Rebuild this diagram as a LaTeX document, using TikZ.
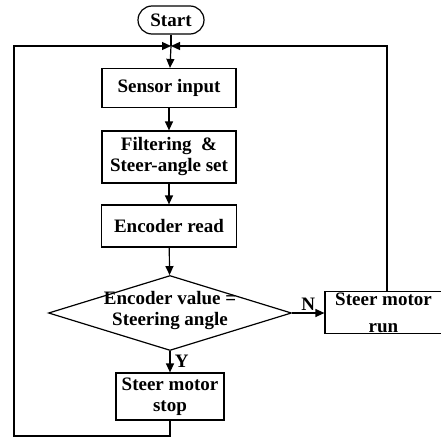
\documentclass[tikz,border=0pt]{standalone}
\usepackage{fontspec}
\setmainfont{Liberation Serif}
\usepackage{tikz}
\usetikzlibrary{arrows.meta,positioning,shapes.geometric,shapes.misc}

\begin{document}
\begin{tikzpicture}[
font=\bfseries\fontsize{19}{21}\selectfont,
line width=1.2pt,
box/.style={draw,rectangle,align=center,inner sep=1pt},
flow/.style={-{Triangle[length=9pt,width=8pt]}},
scale=1]
    % page size (1pt per pixel, y grows downward)
    \begin{scope}[x=1pt,y=-1pt]
    \useasboundingbox (0,0) rectangle (441,439);

    % Draw blocks
    \node[draw,rounded rectangle,minimum width=68pt,minimum height=28pt,inner sep=1pt] (start) at (171,20) {Start};
    \coordinate (join) at (171,46);
    \node[box,minimum width=134pt,minimum height=39pt] (sensor) at (169,88) {Sensor input};
    \node[box,minimum width=134pt,minimum height=52pt] (filter) at (169,157) {Filtering ~\&\\Steer-angle set};
    \node[box,minimum width=135pt,minimum height=42pt] (encoder) at (169,226) {Encoder read};
    \node[draw,diamond,minimum width=243pt,minimum height=75pt,inner sep=0pt] (check) at (170,313) {};
    \node[align=center] (checktext) at (170,310) {Encoder value =\\Steering angle};
    \node[box,minimum width=117pt,minimum height=39pt] (run) at (383.5,312.5) {Steer motor\\[6pt]run};
    \node[box,minimum width=108pt,minimum height=47pt] (stop) at (170,396.5) {Steer motor\\stop};

    \draw
    (14,436) coordinate (lbot)
    (14,46) coordinate (ltop)
    (387,46) coordinate (rtop);
    \end{scope}

    % Connectors
    \draw (start) -- (join);
    \draw[flow] (join) -- (sensor);
    \draw[flow] (sensor) -- (filter);
    \draw[flow] (filter) -- (encoder);
    \draw[flow] (encoder) -- (check);
    \draw[flow] (check.east) -- (check.east -| run.west) node[midway,above=-1pt] {N};
    \draw[flow] (check.south) -- (stop.north) node[midway,right=1pt] {Y};
    \draw[flow] (stop.south) |- (lbot) -- (ltop) -- (join);
    \draw[flow] (rtop |- run.north) -- (rtop) -- (join);

\end{tikzpicture}
\end{document}
